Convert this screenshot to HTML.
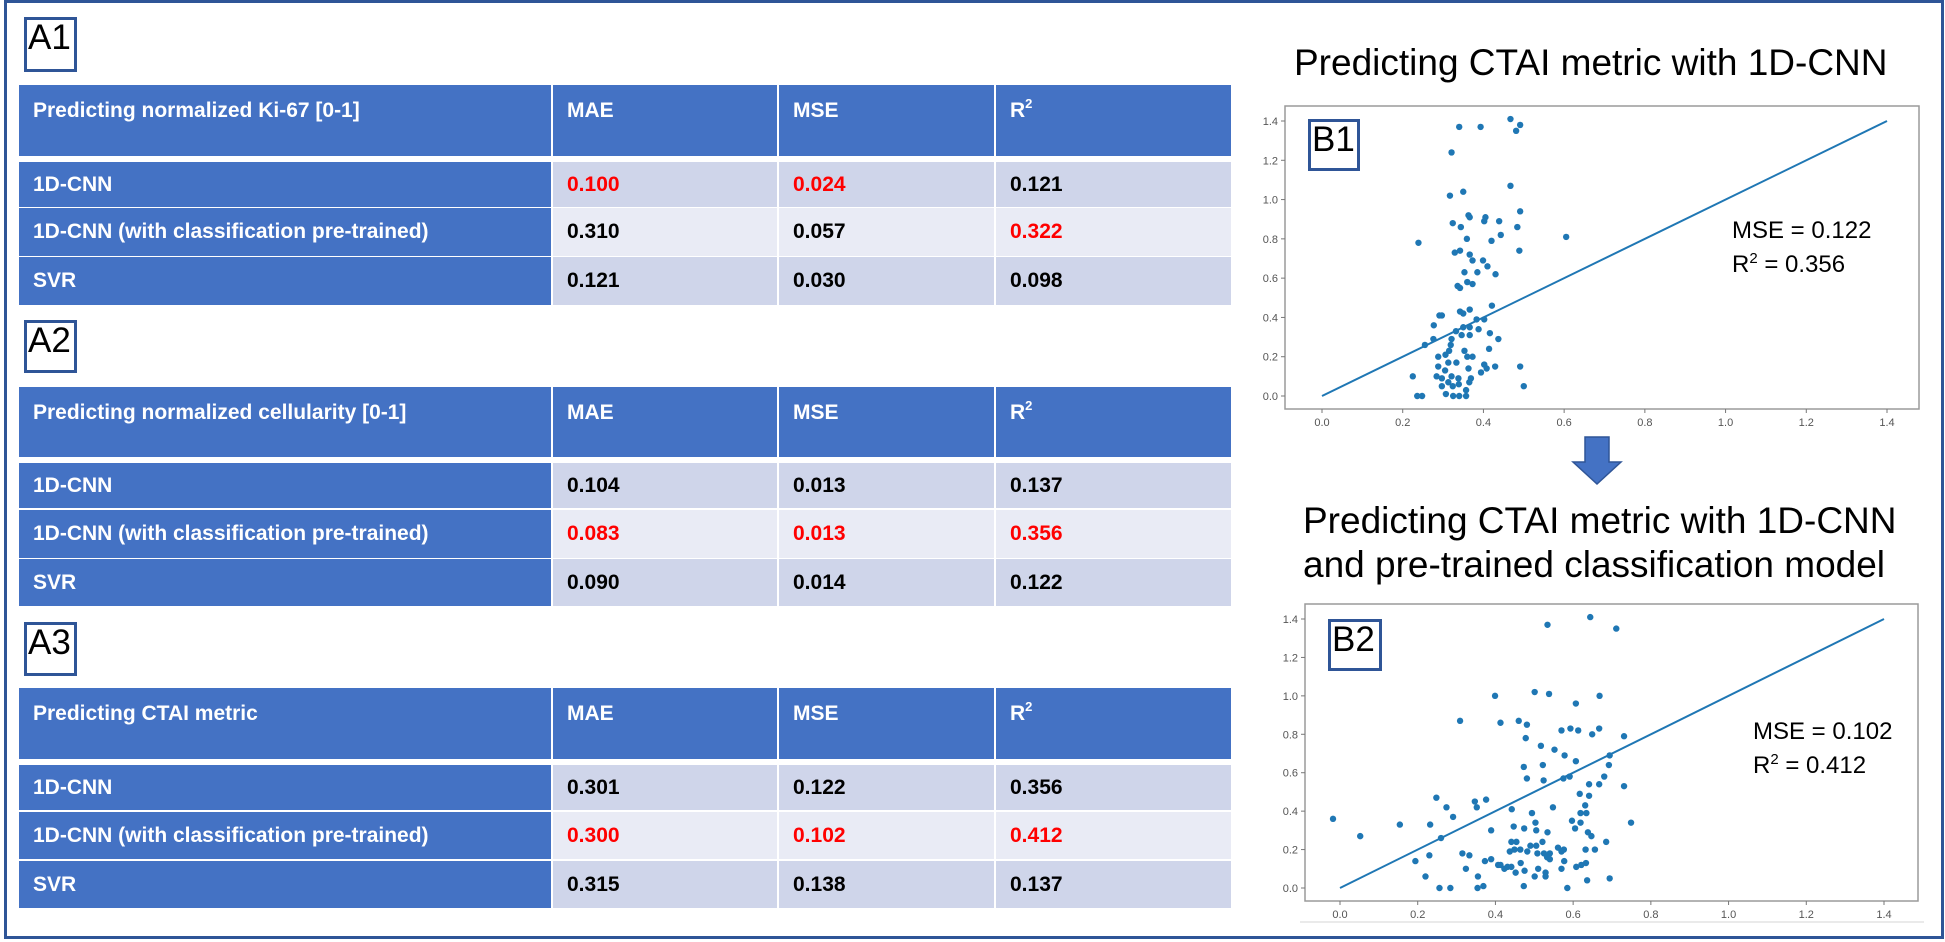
<!DOCTYPE html>
<html><head><meta charset="utf-8">
<style>
html,body{margin:0;padding:0;background:#fff;}
body{width:1945px;height:942px;position:relative;overflow:hidden;font-family:"Liberation Sans",Arial,sans-serif;}
.abs{position:absolute;box-sizing:border-box;}
.frame{left:4px;top:0;width:1940px;height:939px;border:3px solid #2F5597;}
.tag{border:3px solid #2F5597;background:#fff;font-size:35px;line-height:1;color:#000;padding-left:1px;}
.cell{position:absolute;box-sizing:border-box;font-size:21px;font-weight:bold;color:#000;padding-left:14px;display:flex;align-items:center;}
.hd{background:#4472C4;color:#fff;align-items:flex-start;padding-top:14px;}
.lb{background:#4472C4;color:#fff;}
.d1{background:#CFD5EA;}
.d2{background:#E9EBF5;}
.red{color:#FF0000;}
sup{font-size:13px;vertical-align:top;position:relative;top:-3px;}
.title{font-size:37px;color:#000;white-space:nowrap;line-height:1;}
</style></head>
<body>
<div class="abs frame"></div>

<div class="abs tag" style="left:24px;top:17px;width:53px;height:55px;">A1</div>
<div class="abs tag" style="left:24px;top:320px;width:53px;height:53px;">A2</div>
<div class="abs tag" style="left:24px;top:622px;width:53px;height:54px;">A3</div>

<div id="tables"></div>

<div class="abs title" style="left:1294px;top:44px;">Predicting CTAI metric with 1D-CNN</div>
<div class="abs title" style="left:1303px;top:502px;">Predicting CTAI metric with 1D-CNN</div>
<div class="abs title" style="left:1303px;top:546px;">and pre-trained classification model</div>

<svg class="abs" style="left:0;top:0" width="1945" height="942" id="charts">
  <g id="arrow">
    <polygon points="1585,437 1609,437 1609,462 1621,462 1597,484 1573,462 1585,462" fill="#4472C4" stroke="#2F5597" stroke-width="1.5"/>
  </g>
  <line x1="1300" y1="922" x2="1924" y2="922" stroke="#e4e4e4" stroke-width="1.5"/>
</svg>

<div class="abs tag" style="left:1308px;top:119px;width:52px;height:52px;">B1</div>
<div class="abs tag" style="left:1328px;top:619px;width:54px;height:52px;">B2</div>

<script>
// ---------- table data ----------
const t1Rows = ["1D-CNN","1D-CNN (with classification pre-trained)","SVR"];
const t1MAE = ["0.100","0.310","0.121"];
const t1MSE = ["0.024","0.057","0.030"];
const t1R2  = ["0.121","0.322","0.098"];
const t1Red = [[1,1,0],[0,0,1],[0,0,0]];
const t2MAE = ["0.104","0.083","0.090"];
const t2MSE = ["0.013","0.013","0.014"];
const t2R2  = ["0.137","0.356","0.122"];
const t2Red = [[0,0,0],[1,1,1],[0,0,0]];
const t3MAE = ["0.301","0.300","0.315"];
const t3MSE = ["0.122","0.102","0.138"];
const t3R2  = ["0.356","0.412","0.137"];
const t3Red = [[0,0,0],[1,1,1],[0,0,0]];
const tableTitles = ["Predicting normalized Ki-67 [0-1]","Predicting normalized cellularity [0-1]","Predicting CTAI metric"];

// ---------- scatter data ----------
const b1X = [0.467,0.340,0.393,0.491,0.481,0.321,0.467,0.317,0.350,0.363,0.366,0.405,0.402,0.439,0.491,0.324,0.344,0.484,0.443,0.420,0.359,0.239,0.605,0.489,0.329,0.342,0.366,0.373,0.399,0.410,0.430,0.385,0.353,0.336,0.342,0.360,0.373,0.421,0.366,0.342,0.350,0.291,0.297,0.277,0.383,0.402,0.350,0.366,0.388,0.276,0.332,0.346,0.366,0.416,0.437,0.255,0.321,0.319,0.315,0.353,0.414,0.288,0.306,0.360,0.373,0.313,0.333,0.402,0.408,0.429,0.491,0.288,0.305,0.363,0.394,0.225,0.284,0.297,0.321,0.338,0.369,0.313,0.339,0.365,0.297,0.324,0.500,0.307,0.236,0.248,0.325,0.340,0.357,0.357];
const b1Y = [1.41,1.37,1.37,1.38,1.35,1.24,1.07,1.02,1.04,0.92,0.91,0.91,0.89,0.89,0.94,0.88,0.86,0.86,0.82,0.79,0.80,0.78,0.81,0.74,0.73,0.74,0.72,0.69,0.69,0.66,0.62,0.63,0.63,0.56,0.55,0.58,0.57,0.46,0.44,0.43,0.42,0.41,0.41,0.36,0.39,0.39,0.35,0.35,0.34,0.29,0.33,0.31,0.31,0.32,0.29,0.26,0.29,0.26,0.23,0.23,0.24,0.20,0.21,0.20,0.20,0.17,0.17,0.16,0.14,0.15,0.15,0.15,0.13,0.14,0.12,0.10,0.10,0.09,0.10,0.09,0.09,0.07,0.06,0.07,0.05,0.05,0.05,0.01,0.00,0.00,0.00,0.00,0.00,0.03];
const b2X = [0.644,0.534,0.711,0.399,0.501,0.538,0.607,0.668,0.309,0.413,0.460,0.481,0.478,0.570,0.593,0.613,0.649,0.667,0.731,0.517,0.552,0.578,0.607,0.694,0.692,0.473,0.522,0.481,0.524,0.575,0.591,0.641,0.667,0.680,0.731,0.617,0.641,0.631,0.248,0.347,0.376,0.352,0.274,0.291,0.442,0.548,0.494,0.619,0.634,0.597,0.619,0.503,-0.018,0.052,0.154,0.232,0.260,0.447,0.474,0.389,0.505,0.534,0.605,0.749,0.638,0.647,0.454,0.441,0.521,0.490,0.505,0.464,0.449,0.437,0.482,0.561,0.576,0.570,0.632,0.656,0.685,0.508,0.525,0.540,0.533,0.540,0.577,0.315,0.333,0.230,0.194,0.373,0.389,0.465,0.407,0.413,0.423,0.431,0.441,0.452,0.475,0.510,0.529,0.529,0.570,0.608,0.621,0.633,0.324,0.220,0.355,0.501,0.636,0.694,0.256,0.284,0.354,0.369,0.473,0.585];
const b2Y = [1.41,1.37,1.35,1.00,1.02,1.01,0.96,1.00,0.87,0.86,0.87,0.85,0.78,0.82,0.83,0.82,0.80,0.83,0.79,0.74,0.72,0.69,0.66,0.69,0.64,0.63,0.64,0.57,0.56,0.57,0.58,0.54,0.54,0.58,0.53,0.49,0.48,0.43,0.47,0.45,0.46,0.42,0.42,0.37,0.41,0.42,0.39,0.39,0.39,0.35,0.34,0.34,0.36,0.27,0.33,0.33,0.26,0.32,0.31,0.30,0.30,0.29,0.31,0.34,0.29,0.27,0.24,0.24,0.24,0.22,0.22,0.20,0.20,0.19,0.19,0.21,0.20,0.19,0.20,0.20,0.24,0.18,0.18,0.18,0.16,0.15,0.14,0.18,0.17,0.17,0.14,0.14,0.15,0.13,0.12,0.12,0.10,0.11,0.11,0.08,0.09,0.10,0.08,0.06,0.10,0.11,0.12,0.13,0.10,0.06,0.06,0.06,0.04,0.05,0.00,0.00,0.00,0.01,0.01,0.00];
const tickVals = [0.0,0.2,0.4,0.6,0.8,1.0,1.2,1.4];
const tickLabels = ["0.0","0.2","0.4","0.6","0.8","1.0","1.2","1.4"];
const fitLine = [0,1.4];
const b1Stats = ["MSE = 0.122","0.356"];
const b2Stats = ["MSE = 0.102","0.412"];

// ---------- build tables ----------
const tablesEl = document.getElementById('tables');
const colL = [19,553,779,996], colR = [551,777,994,1231];
const tableLayout = [
  {hd:[85,156], rows:[[162,207],[208,256],[257,305]], mae:t1MAE, mse:t1MSE, r2:t1R2, red:t1Red},
  {hd:[387,457], rows:[[463,508],[510,558],[559,606]], mae:t2MAE, mse:t2MSE, r2:t2R2, red:t2Red},
  {hd:[688,759], rows:[[765,810],[812,859],[861,908]], mae:t3MAE, mse:t3MSE, r2:t3R2, red:t3Red}
];
function mkCell(cls, c, top, bot, html){
  const d = document.createElement('div');
  d.className = 'cell ' + cls;
  d.style.left = colL[c]+'px'; d.style.width = (colR[c]-colL[c])+'px';
  d.style.top = top+'px'; d.style.height = (bot-top)+'px';
  d.innerHTML = html;
  tablesEl.appendChild(d);
  return d;
}
tableLayout.forEach((t, ti) => {
  const heads = [tableTitles[ti], 'MAE', 'MSE', 'R<sup>2</sup>'];
  heads.forEach((h, c) => {
    const d = mkCell('hd', c, t.hd[0], t.hd[1], h);
    
    
  });
  t.rows.forEach((r, ri) => {
    const bg = ri === 1 ? 'd2' : 'd1';
    const l = mkCell('lb', 0, r[0], r[1], t1Rows[ri]);
    
    
    [t.mae, t.mse, t.r2].forEach((arr, k) => {
      const d = mkCell(bg + (t.red[ri][k] ? ' red' : ''), k+1, r[0], r[1], arr[ri]);
      
      
    });
  });
});

// ---------- build charts ----------
const NS = 'http://www.w3.org/2000/svg';
const svg = document.getElementById('charts');
function el(tag, attrs, parent){
  const e = document.createElementNS(NS, tag);
  for (const k in attrs) e.setAttribute(k, attrs[k]);
  (parent||svg).appendChild(e);
  return e;
}
function drawChart(cfg){
  const g = el('g', {});
  
  
  const sx = v => cfg.x0 + (v - 0) * (cfg.x14 - cfg.x0) / 1.4;
  const sy = v => cfg.y0 - (v - 0) * (cfg.y0 - cfg.y14) / 1.4;
  el('rect', {x:cfg.fx0, y:cfg.fy0, width:cfg.fx1-cfg.fx0, height:cfg.fy1-cfg.fy0, fill:'#fff', stroke:'#9a9a9a', 'stroke-width':1.5}, g);
  tickVals.forEach((v, i) => {
    const tx = sx(v), ty = sy(v);
    el('line', {x1:tx, y1:cfg.fy1, x2:tx, y2:cfg.fy1+4, stroke:'#777', 'stroke-width':1}, g);
    const xl = el('text', {x:tx, y:cfg.fy1+17, 'font-size':11, fill:'#555', 'text-anchor':'middle', 'font-family':'Liberation Sans, sans-serif'}, g);
    xl.textContent = tickLabels[i];
    
    
    el('line', {x1:cfg.fx0-4, y1:ty, x2:cfg.fx0, y2:ty, stroke:'#777', 'stroke-width':1}, g);
    const yl = el('text', {x:cfg.fx0-7, y:ty+4, 'font-size':11, fill:'#555', 'text-anchor':'end', 'font-family':'Liberation Sans, sans-serif'}, g);
    yl.textContent = tickLabels[i];
    
    
  });
  const ln = el('line', {x1:sx(fitLine[0]), y1:sy(fitLine[0]), x2:sx(fitLine[1]), y2:sy(fitLine[1]), stroke:'#1f77b4', 'stroke-width':2}, g);
  
  
  cfg.xs.forEach((xv, i) => {
    const c = el('circle', {cx:sx(xv), cy:sy(cfg.ys[i]), r:3.2, fill:'#1f77b4'}, g);
    
    
  });
  const t1 = el('text', {x:cfg.tx, y:cfg.ty, 'font-size':24, fill:'#000', 'font-family':'Liberation Sans, sans-serif'}, g);
  t1.textContent = cfg.stats[0];
  
  
  const t2 = el('text', {x:cfg.tx, y:cfg.ty+34, 'font-size':24, fill:'#000', 'font-family':'Liberation Sans, sans-serif'}, g);
  t2.innerHTML = 'R<tspan dy="-9" font-size="15">2</tspan><tspan dy="9"> = ' + cfg.stats[1] + '</tspan>';
  
  
}
drawChart({name:'scatter-b1', fx0:1285, fx1:1919, fy0:106, fy1:409, x0:1322, x14:1887, y0:396, y14:121, xs:b1X, ys:b1Y, tx:1732, ty:238, stats:b1Stats});
drawChart({name:'scatter-b2', fx0:1305, fx1:1918, fy0:604, fy1:901, x0:1340, x14:1884, y0:888, y14:619, xs:b2X, ys:b2Y, tx:1753, ty:739, stats:b2Stats});
</script>
</body></html>
